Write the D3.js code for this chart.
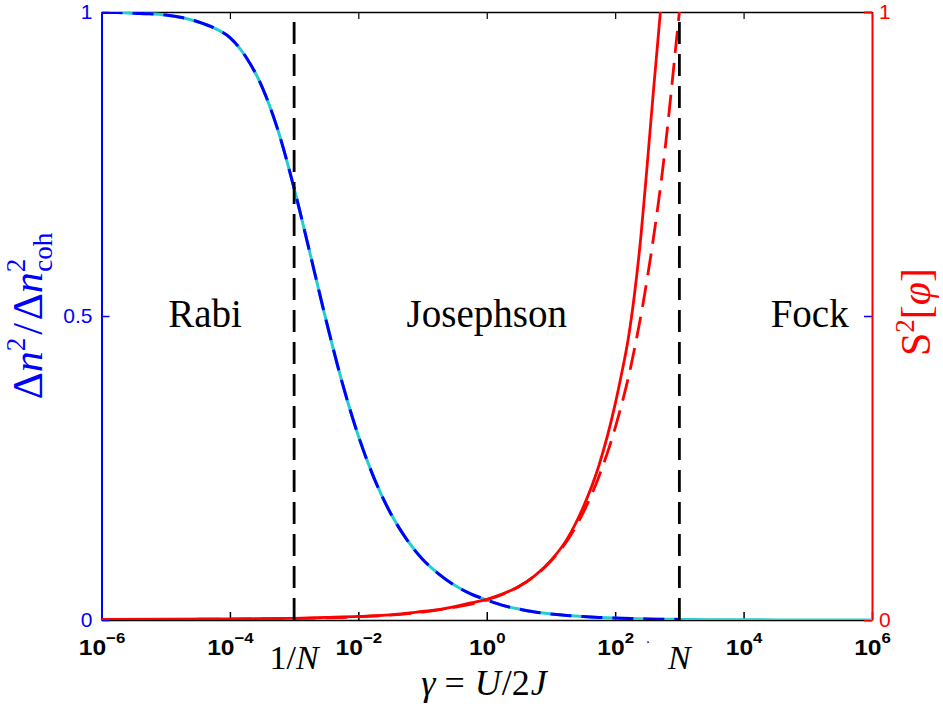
<!DOCTYPE html>
<html>
<head>
<meta charset="utf-8">
<script src="https://cdn.jsdelivr.net/npm/d3@7"></script>
<style>
  html, body { margin: 0; padding: 0; background: #fff; }
  svg { display: block; }
</style>
</head>
<body>
<svg id="chart" width="943" height="706"></svg>
<script>
// log10(gamma) sampling grid for the number-fluctuation curve
const varianceExp = [-6, -5.75, -5.5, -5.25, -5, -4.75, -4.5, -4.25, -4, -3.75, -3.5, -3.25,
  -3, -2.75, -2.5, -2.25, -2, -1.75, -1.5, -1.25, -1, -0.75, -0.5, -0.25,
  0, 0.25, 0.5, 0.75, 1, 1.25, 1.5, 1.75, 2, 2.25, 2.5, 2.75, 3];
// Δn² / Δn²_coh (exact, blue dashed)
const varianceExact = [0.999, 0.999, 0.998, 0.997, 0.995, 0.991, 0.984, 0.974, 0.958, 0.926, 0.877, 0.805,
  0.71, 0.602, 0.492, 0.39, 0.303, 0.232, 0.176, 0.133, 0.1, 0.076, 0.057, 0.043,
  0.033, 0.024, 0.018, 0.013, 0.010, 0.0075, 0.0056, 0.0042, 0.0032, 0.0024, 0.0018, 0.0013, 0.001];
// continuation of the analytic curve (cyan) beyond gamma = N
const varianceTailExp = [3.5, 4, 4.5, 5, 5.5, 6];
const varianceTail = [0.0006, 0.0003, 0.0002, 0.0001, 0.00006, 0.00003];

// phase fluctuations S²[φ] (red solid)
const phaseExp = [-6, -5, -4, -3, -2.5, -2, -1.5, -1, -0.75, -0.5, -0.25, 0, 0.25, 0.5, 0.75,
  1, 1.25, 1.5, 1.75, 2, 2.1, 2.2, 2.3, 2.4, 2.5, 2.6, 2.7, 2.75];
const phaseExact = [0.001, 0.0012, 0.0018, 0.0028, 0.0042, 0.0058, 0.0085, 0.014, 0.017, 0.022, 0.028, 0.034, 0.043, 0.055, 0.073,
  0.098, 0.133, 0.185, 0.255, 0.355, 0.405, 0.46, 0.535, 0.63, 0.75, 0.875, 0.995, 1.06];
// S²[φ] approximation (red dashed)
const phaseApproxExp = [-6, -4, -3, -2, -1, -0.5, 0, 0.5, 1, 1.25, 1.5, 1.75, 2, 2.25, 2.5, 2.75, 3, 3.02];
const phaseApprox = [0.0008, 0.0015, 0.0025, 0.0052, 0.013, 0.021, 0.033, 0.055, 0.097, 0.13, 0.176, 0.237, 0.316, 0.42, 0.562, 0.75, 1.0, 1.02];

// regime boundaries gamma = 1/N and gamma = N (N = 1000)
const regimeBounds = [1e-3, 1e3];
const regimeNames = ["Rabi", "Josephson", "Fock"];
const regimeLabelGamma = [4.1e-5, 1, 1.07e5];

const xTickExps = [-6, -4, -2, 0, 2, 4, 6];
const leftTicks = [0, 0.5, 1];
const leftTickLabels = ["0", "0.5", "1"];
const rightTicks = [0, 1];
const rightTickLabels = ["0", "1"];

const BLUE = "#0000ff", CYAN = "#22cfcf", RED = "#ff0000";
const sans = "'Liberation Sans', Arial, sans-serif";
const serif = "'Liberation Serif', 'DejaVu Serif', serif";

const svg = d3.select("#chart");
const plot = { left: 101.5, right: 872, top: 12, bottom: 620 };

const x = d3.scaleLog().domain([1e-6, 1e6]).range([plot.left, plot.right]);
const y = d3.scaleLinear().domain([0, 1]).range([plot.bottom, plot.top]);

const toPts = (exps, vals) => exps.map((e, i) => ({ g: Math.pow(10, e), v: vals[i] }));
const line = d3.line().x(d => x(d.g)).y(d => y(d.v)).curve(d3.curveMonotoneX);

svg.append("defs").append("clipPath").attr("id", "plotclip")
  .append("rect")
  .attr("x", plot.left).attr("y", plot.top)
  .attr("width", plot.right - plot.left).attr("height", plot.bottom - plot.top);

// axes frame and ticks
const bottomAxis = d3.axisBottom(x).tickValues(xTickExps.map(e => Math.pow(10, e)))
  .tickSizeInner(-8).tickSizeOuter(0).tickFormat(() => "");
const gB = svg.append("g").attr("transform", `translate(0,${plot.bottom})`).call(bottomAxis);
gB.select(".domain").attr("stroke", "#000").attr("stroke-width", 1.5);
gB.selectAll(".tick line").attr("stroke", "#000").attr("stroke-width", 1.5);

const topAxis = d3.axisTop(x).tickValues(xTickExps.map(e => Math.pow(10, e)))
  .tickSizeInner(-7).tickSizeOuter(0).tickFormat(() => "");
const gT = svg.append("g").attr("transform", `translate(0,${plot.top})`).call(topAxis);
gT.select(".domain").attr("stroke", "#000").attr("stroke-width", 1.5);
gT.selectAll(".tick line").attr("stroke", "#000").attr("stroke-width", 1.2);

// x tick labels 10^k
gB.selectAll(".tick").each(function (d) {
  const e = Math.round(Math.log10(d));
  const t = d3.select(this).append("text")
    .attr("y", 35).attr("text-anchor", "middle")
    .attr("transform", "scale(1.12,1)")
    .attr("fill", "#000")
    .style("font-family", sans).style("font-weight", "bold")
    .style("font-size", "22px");
  t.append("tspan").text("10");
  t.append("tspan").attr("dy", -12).style("font-size", "15px")
    .text(e < 0 ? "\u2212" + Math.abs(e) : String(e));
});

// blue mirrored ticks on the right edge
const blueRight = d3.axisRight(y).tickValues(leftTicks).tickSizeInner(-8).tickSizeOuter(0).tickFormat(() => "");
const gBR = svg.append("g").attr("transform", `translate(${plot.right},0)`).call(blueRight);
gBR.select(".domain").remove();
gBR.selectAll(".tick line").attr("stroke", BLUE).attr("stroke-width", 1.5);

// left (blue) axis
const leftAxis = d3.axisLeft(y).tickValues(leftTicks).tickSizeInner(-8).tickSizeOuter(0).tickPadding(9)
  .tickFormat((d, i) => leftTickLabels[i]);
const gL = svg.append("g").attr("transform", `translate(${plot.left},0)`).call(leftAxis);
gL.select(".domain").attr("stroke", BLUE).attr("stroke-width", 2);
gL.selectAll(".tick line").attr("stroke", BLUE).attr("stroke-width", 1.5);
gL.selectAll(".tick text").attr("fill", BLUE)
  .style("font-family", sans).style("font-size", "21px");

// right (red) axis
const rightAxis = d3.axisRight(y).tickValues(rightTicks).tickSizeInner(-8).tickSizeOuter(0).tickPadding(7)
  .tickFormat((d, i) => rightTickLabels[i]);
const gR = svg.append("g").attr("transform", `translate(${plot.right},0)`).call(rightAxis);
gR.select(".domain").attr("stroke", RED).attr("stroke-width", 2);
gR.selectAll(".tick line").attr("stroke", RED).attr("stroke-width", 1.5);
gR.selectAll(".tick text").attr("fill", RED)
  .style("font-family", sans).style("font-size", "21px");

// curves
const curves = svg.append("g").attr("clip-path", "url(#plotclip)");
curves.append("path")
  .datum(toPts(varianceExp, varianceExact).concat(toPts(varianceTailExp, varianceTail)))
  .attr("d", line).attr("fill", "none").attr("stroke", CYAN).attr("stroke-width", 3);
curves.append("path")
  .datum(toPts(varianceExp, varianceExact))
  .attr("d", line).attr("fill", "none").attr("stroke", BLUE).attr("stroke-width", 3)
  .attr("stroke-dasharray", "21,10");
curves.append("path")
  .datum(toPts(phaseExp, phaseExact))
  .attr("d", line).attr("fill", "none").attr("stroke", RED).attr("stroke-width", 2.8);
curves.append("path")
  .datum(toPts(phaseApproxExp, phaseApprox))
  .attr("d", line).attr("fill", "none").attr("stroke", RED).attr("stroke-width", 2.8)
  .attr("stroke-dasharray", "22,10");

// regime boundaries
curves.selectAll("line.bound").data(regimeBounds).enter().append("line")
  .attr("class", "bound")
  .attr("x1", d => x(d)).attr("x2", d => x(d))
  .attr("y1", y(0)).attr("y2", y(1))
  .attr("stroke", "#000").attr("stroke-width", 2.8).attr("stroke-dasharray", "22,10");

// regime names
svg.selectAll("text.regime").data(regimeNames).enter().append("text")
  .attr("class", "regime")
  .attr("x", (d, i) => x(regimeLabelGamma[i])).attr("y", 327)
  .attr("text-anchor", "middle")
  .style("font-family", serif).style("font-size", "39px")
  .text(d => d);

// boundary labels under the axis
const lblN1 = svg.append("text").attr("x", x(regimeBounds[0])).attr("y", 669).attr("text-anchor", "middle")
  .style("font-family", serif).style("font-size", "34px");
lblN1.append("tspan").text("1/");
lblN1.append("tspan").style("font-style", "italic").text("N");
svg.append("text").attr("x", x(regimeBounds[1])).attr("y", 669).attr("text-anchor", "middle")
  .style("font-family", serif).style("font-size", "34px").style("font-style", "italic").text("N");
svg.append("text").attr("x", 648).attr("y", 643).attr("text-anchor", "middle")
  .style("font-family", serif).style("font-size", "14px").text(".");

// x-axis title
const xt = svg.append("text").attr("x", 484).attr("y", 695).attr("text-anchor", "middle")
  .style("font-family", serif).style("font-size", "36px");
xt.append("tspan").style("font-style", "italic").text("γ");
xt.append("tspan").attr("dx", 9).text("=");
xt.append("tspan").attr("dx", 10).style("font-style", "italic").text("U");
xt.append("tspan").attr("dx", 1).text("/2");
xt.append("tspan").attr("dx", 1).style("font-style", "italic").text("J");

// left y-axis title
const yl = svg.append("text").attr("transform", "translate(42,316) rotate(-90)")
  .attr("text-anchor", "middle").attr("fill", BLUE)
  .style("font-family", serif).style("font-size", "42px");
yl.append("tspan").text("Δ");
yl.append("tspan").style("font-style", "italic").text("n");
yl.append("tspan").attr("dy", -17).style("font-size", "27px").text("2");
yl.append("tspan").attr("dy", 17).attr("dx", 3).text("/");
yl.append("tspan").attr("dx", 3).text("Δ");
yl.append("tspan").style("font-style", "italic").text("n");
yl.append("tspan").attr("dy", -17).style("font-size", "27px").text("2");
yl.append("tspan").attr("dx", -13).attr("dy", 27).style("font-size", "27px").text("coh");

// right y-axis title
const yr = svg.append("text").attr("transform", "translate(930,312) rotate(-90)")
  .attr("text-anchor", "middle").attr("fill", RED)
  .style("font-family", serif).style("font-size", "42px");
yr.append("tspan").text("S");
yr.append("tspan").attr("dy", -16).style("font-size", "27px").text("2");
yr.append("tspan").attr("dy", 16).text("[");
yr.append("tspan").style("font-style", "italic").text("φ");
yr.append("tspan").text("]");
</script>
</body>
</html>
